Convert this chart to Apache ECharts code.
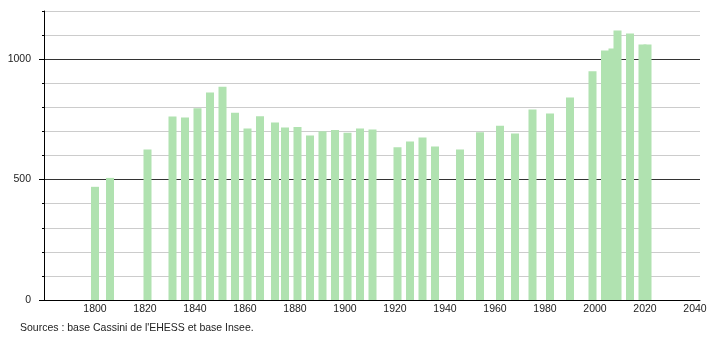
<!DOCTYPE html>
<html>
<head>
<meta charset="utf-8">
<script src="https://cdn.jsdelivr.net/npm/echarts@6/dist/echarts.min.js"></script>
<style>
html,body{margin:0;padding:0;background:#fff;}
#c{width:710px;height:340px;}
</style>
</head>
<body>
<div id="c"></div>
<script>
const years = [1800, 1806, 1821, 1831, 1836, 1841, 1846, 1851, 1856, 1861, 1866, 1872, 1876, 1881, 1886, 1891, 1896, 1901, 1906, 1911, 1921, 1926, 1931, 1936, 1946, 1954, 1962, 1968, 1975, 1982, 1990, 1999, 2004, 2007, 2009, 2014, 2019, 2021];
const population = [470, 507, 625, 762, 758, 796, 862, 885, 778, 712, 763, 737, 716, 718, 683, 701, 706, 694, 712, 708, 634, 658, 675, 637, 625, 697, 724, 691, 791, 774, 841, 950, 1036, 1044, 1119, 1107, 1061, 1061];
const xTickLabels = [1800, 1820, 1840, 1860, 1880, 1900, 1920, 1940, 1960, 1980, 2000, 2020, 2040];
const yTickLabels = [0, 500, 1000];
const sourceText = "Sources : base Cassini de l'EHESS et base Insee.";

const font = "'Liberation Sans', Arial, sans-serif";
const chart = echarts.init(document.getElementById('c'), null, {renderer: 'canvas'});
chart.setOption({
  animation: false,
  backgroundColor: '#ffffff',
  grid: {left: 44, right: 10, top: 11, bottom: 40, containLabel: false},
  xAxis: {
    type: 'value',
    min: 1779.6,
    max: 2042,
    axisLine: {show: true, lineStyle: {color: '#000', width: 1}},
    axisTick: {show: false},
    splitLine: {show: false},
    axisLabel: {
      customValues: xTickLabels,
      formatter: v => String(v),
      margin: 4,
      fontFamily: font,
      fontSize: 10.5,
      color: '#222'
    }
  },
  yAxis: [
    {
      type: 'value',
      min: 0,
      max: 1200,
      interval: 100,
      axisLine: {show: true, lineStyle: {color: '#000', width: 1}},
      axisTick: {show: true, length: 2, lineStyle: {color: '#000'}},
      axisLabel: {show: false},
      splitLine: {show: true, lineStyle: {color: '#cccccc', width: 1}}
    },
    {
      type: 'value',
      min: 0,
      max: 1200,
      interval: 500,
      position: 'left',
      axisLine: {show: false},
      axisTick: {show: true, length: 5, customValues: yTickLabels, lineStyle: {color: '#000'}},
      axisLabel: {
        customValues: yTickLabels,
        formatter: v => String(v),
        margin: 13,
        fontFamily: font,
        fontSize: 10.5,
        color: '#222'
      },
      splitLine: {show: true, lineStyle: {color: '#333333', width: 1}}
    }
  ],
  series: [{
    type: 'bar',
    yAxisIndex: 0,
    data: years.map((y, i) => [y, population[i]]),
    barWidth: 8,
    itemStyle: {color: '#b0e2b0'},
    silent: true
  }],
  graphic: [{
    type: 'text',
    left: 20,
    top: 323,
    style: {
      text: sourceText,
      fontFamily: font,
      fontSize: 10.5,
      fill: '#222'
    }
  }]
});
</script>
</body>
</html>
